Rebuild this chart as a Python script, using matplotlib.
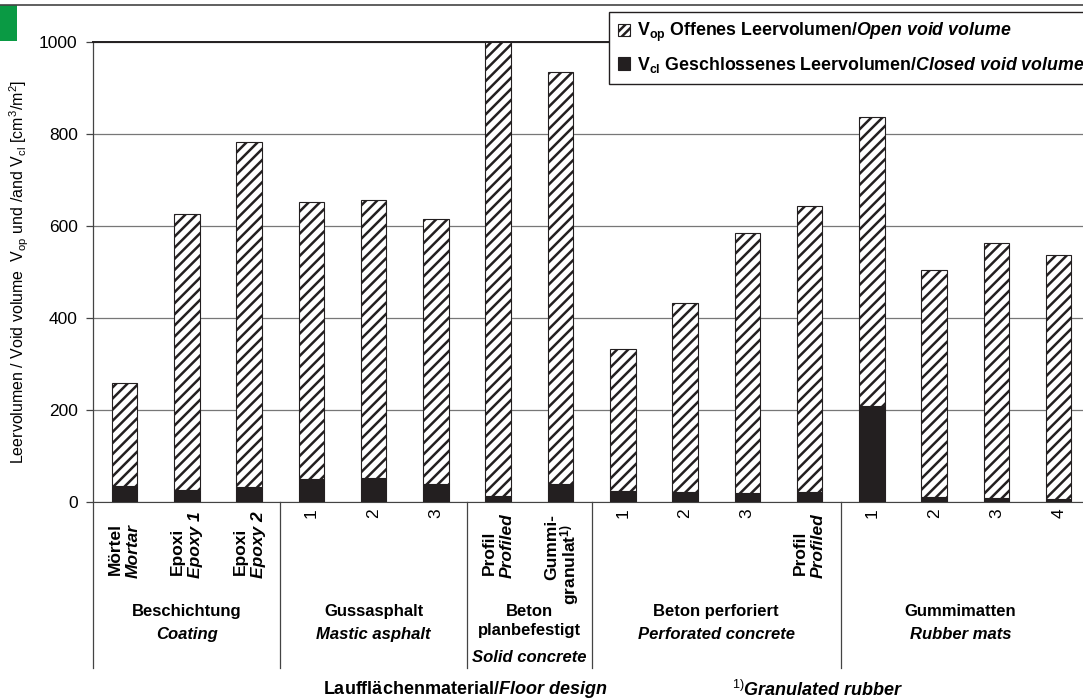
import matplotlib
matplotlib.use("Agg")
import matplotlib.pyplot as plt
from matplotlib.patches import Rectangle, Patch
from matplotlib.lines import Line2D

plt.rcParams['font.family'] = ['Liberation Sans', 'DejaVu Sans']
plt.rcParams['mathtext.fontset'] = 'custom'
plt.rcParams['mathtext.rm'] = 'Liberation Sans'
plt.rcParams['mathtext.it'] = 'Liberation Sans:italic'
plt.rcParams['mathtext.bf'] = 'Liberation Sans:bold'
plt.rcParams['mathtext.bfit'] = 'Liberation Sans:italic:bold'
plt.rcParams['hatch.linewidth'] = 1.8

# Daten
labels_de = ["Mörtel", "Epoxi", "Epoxi", "1", "2", "3", "Profil", "Gummi-",
             "1", "2", "3", "Profil", "1", "2", "3", "4"]
labels_en = ["Mortar", "Epoxy 1", "Epoxy 2", "", "", "", "Profiled", r"granulat$^{\mathbf{1)}}$",
             "", "", "", "Profiled", "", "", "", ""]
closed = [35, 27, 33, 49, 53, 39, 14, 40, 25, 22, 19, 22, 209, 10, 9, 7]
opened = [224, 599, 750, 603, 603, 576, 986, 895, 307, 410, 566, 621, 628, 494, 554, 530]

groups_de = ["Beschichtung", "Gussasphalt", "Beton\nplanbefestigt", "Beton perforiert", "Gummimatten"]
groups_en = ["Coating", "Mastic asphalt", "Solid concrete", "Perforated concrete", "Rubber mats"]
group_pos = [1.0, 4.0, 6.5, 9.5, 13.42]
separators = [2.5, 5.5, 7.5, 11.5]

dark = '#231f20'
x = list(range(len(closed)))

fig = plt.figure(figsize=(10.83, 7.0), dpi=100)
ax = fig.add_axes([93 / 1083, 198 / 700, 990 / 1083, 460 / 700])

ax.bar(x, closed, width=0.41, color=dark, edgecolor=dark, linewidth=0.8, zorder=3)
ax.bar(x, opened, bottom=closed, width=0.41, color='white', edgecolor=dark,
       hatch='///', linewidth=0.8, zorder=3)

ax.set_xlim(-0.506, 15.39)
ax.set_ylim(0, 1000)
ax.set_yticks([0, 200, 400, 600, 800, 1000])
ax.yaxis.grid(True, color='#777777', linewidth=0.9)
ax.set_axisbelow(True)
ax.set_xticks([])
ax.tick_params(axis='y', labelsize=12.5, length=5, width=0.9, color='#444444', pad=6)
ax.spines['right'].set_visible(False)
ax.spines['top'].set_color(dark)
ax.spines['top'].set_linewidth(1.4)
ax.spines['bottom'].set_color('#444444')
ax.spines['left'].set_color('#444444')
ax.spines['left'].set_linewidth(0.9)

ax.set_ylabel(r"Leervolumen / Void volume  V$_{\rm op}$ und /and V$_{\rm cl}$ [cm$^3$/m$^2$]",
              fontsize=11.5, labelpad=6)

# Trennlinien im Beschriftungsbereich
xt = ax.get_xaxis_transform()
ax.add_line(Line2D([-0.506, -0.506], [0, -0.361], transform=xt, color='#444444',
                   linewidth=0.9, clip_on=False))
for s in separators:
    ax.add_line(Line2D([s, s], [0, -0.361], transform=xt, color='#444444',
                       linewidth=0.9, clip_on=False))

# Kategorien
for i in x:
    if labels_en[i] == "":
        ax.annotate(labels_de[i], xy=(i, 0), xycoords=xt, xytext=(0, -6),
                    textcoords='offset pixels', rotation=90, ha='center', va='top', fontsize=12.5)
    elif labels_de[i] == "Gummi-":
        ax.annotate(labels_de[i], xy=(i, 0), xycoords=xt, xytext=(-9, -78),
                    textcoords='offset pixels', rotation=90, ha='center', va='bottom',
                    fontsize=12.5, fontweight='bold')
        ax.annotate(labels_en[i], xy=(i, 0), xycoords=xt, xytext=(9, -103),
                    textcoords='offset pixels', rotation=90, ha='center', va='bottom',
                    fontsize=12.5, fontweight='bold')
    else:
        ax.annotate(labels_de[i], xy=(i, 0), xycoords=xt, xytext=(-9, -73),
                    textcoords='offset pixels', rotation=90, ha='center', va='bottom',
                    fontsize=12.5, fontweight='bold')
        ax.annotate(labels_en[i], xy=(i, 0), xycoords=xt, xytext=(9, -76),
                    textcoords='offset pixels', rotation=90, ha='center', va='bottom',
                    fontsize=12.5, fontweight='bold', style='italic')

# Gruppen
for g, de, en in zip(group_pos, groups_de, groups_en):
    nl = de.count("\n")
    ax.annotate(de, xy=(g, 0), xycoords=xt, xytext=(0, -102),
                textcoords='offset pixels', ha='center', va='top', fontsize=12,
                fontweight='bold', linespacing=1.35)
    ax.annotate(en, xy=(g, 0), xycoords=xt, xytext=(0, -125 - 22.5 * nl),
                textcoords='offset pixels', ha='center', va='top', fontsize=12,
                fontweight='bold', style='italic')

# Legende
handles = [Patch(facecolor='white', edgecolor=dark, hatch='////', linewidth=0.8),
           Patch(facecolor=dark, edgecolor=dark, linewidth=0.8)]
leg_labels = [r"V$_{\mathbf{op}}$ Offenes Leervolumen/$\mathbfit{Open\ void\ volume}$",
              r"V$_{\mathbf{cl}}$ Geschlossenes Leervolumen/$\mathbfit{Closed\ void\ volume}$"]
leg = fig.legend(handles, leg_labels, loc='upper right', bbox_to_anchor=(1.01, 0.983),
                 borderaxespad=0, frameon=True, fancybox=False, framealpha=1, edgecolor=dark,
                 prop={'weight': 'bold', 'size': 12.8}, handlelength=0.7, handleheight=0.7,
                 handletextpad=0.4, labelspacing=0.6, borderpad=0.5)
leg.get_frame().set_linewidth(1.0)

# Fußzeile
fig.text(465 / 1083, 10 / 700, r"Laufflächenmaterial/$\mathbfit{Floor\ design}$",
         ha='center', va='center', fontsize=13, fontweight='bold')
fig.text(732 / 1083, 10 / 700, r"$^{1)}$$\mathbfit{Granulated\ rubber}$",
         ha='left', va='center', fontsize=13)

# Rahmenlinie und gruene Marke oben
fig.add_artist(Line2D([0, 1], [695 / 700, 695 / 700], transform=fig.transFigure,
                      color='#444444', linewidth=1.2))
fig.add_artist(Rectangle((0, 659 / 700), 17 / 1083, 36 / 700, transform=fig.transFigure,
                         facecolor='#0a9a44', edgecolor='none'))

fig.savefig("out.png", dpi=100)
